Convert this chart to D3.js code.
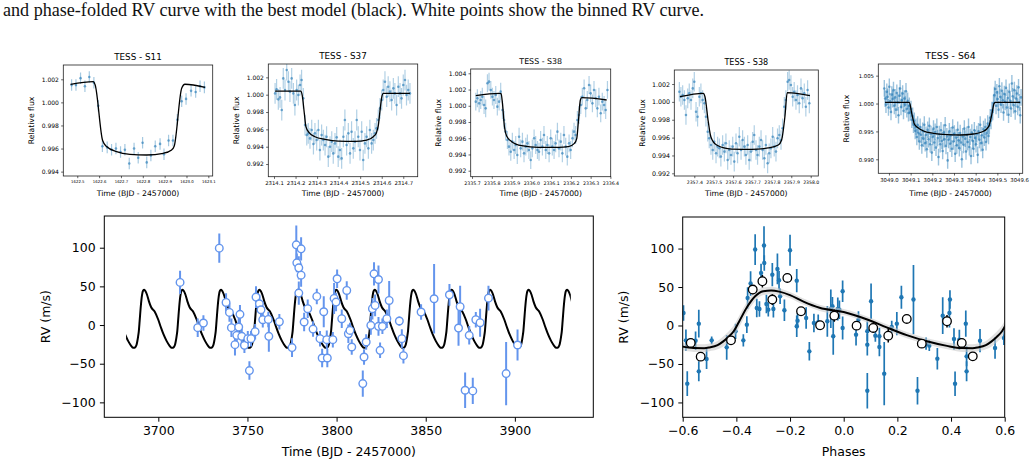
<!DOCTYPE html>
<html><head><meta charset="utf-8">
<script src="https://cdn.jsdelivr.net/npm/d3@7"></script>
<style>
body{margin:0;background:#fff;}
svg{display:block;}
</style></head><body>
<svg id="c" width="1034" height="465"></svg>
<script>
// ---------------- DATA ----------------
const captionText = "and phase-folded RV curve with the best model (black). White points show the binned RV curve.";

// TESS S11
const s11Time = [1622.474,1622.494,1622.515,1622.535,1622.555,1622.576,1622.596,1622.615,1622.637,1622.657,1622.677,1622.698,1622.718,1622.738,1622.760,1622.779,1622.799,1622.818,1622.837,1622.857,1622.879,1622.897,1622.918,1622.938,1622.958,1622.978,1622.998,1623.021,1623.042,1623.062,1623.082];
const s11Flux = [1.0015,1.0015,1.0021,1.0014,1.0022,1.0017,0.9997,0.9962,0.9961,0.9959,0.9960,0.9957,0.9959,0.9947,0.9960,0.9952,0.9965,0.9948,0.9954,0.9962,0.9964,0.9955,0.9967,0.9967,0.9985,1.0001,1.0003,1.0010,1.0009,1.0014,1.0013];
const s11Err = 0.0005;
const s11ModelTime = [1622.469,1622.573,1622.582,1622.616,1622.634,1622.680,1622.741,1622.818,1622.894,1622.932,1622.944,1622.978,1622.993,1623.085];
const s11ModelFlux = [1.00157,1.0018,1.00151,0.99669,0.99617,0.99573,0.9955,0.99544,0.99559,0.99588,0.99622,1.00122,1.00157,1.00131];
const s11XTicks = [1622.5,1622.6,1622.7,1622.8,1622.9,1623.0,1623.1];
const s11YTicks = [0.994,0.996,0.998,1.000,1.002];

// TESS S37
const s37Time = [2314.105,2314.112,2314.120,2314.128,2314.136,2314.143,2314.151,2314.159,2314.167,2314.174,2314.182,2314.190,2314.197,2314.205,2314.213,2314.221,2314.228,2314.236,2314.244,2314.252,2314.259,2314.267,2314.275,2314.283,2314.290,2314.298,2314.306,2314.313,2314.321,2314.329,2314.337,2314.344,2314.352,2314.360,2314.368,2314.375,2314.383,2314.391,2314.398,2314.406,2314.414,2314.422,2314.429,2314.437,2314.445,2314.453,2314.460,2314.468,2314.476,2314.484,2314.491,2314.499,2314.507,2314.514,2314.522,2314.530,2314.538,2314.545,2314.553,2314.561,2314.569,2314.576,2314.584,2314.592,2314.600,2314.607,2314.615,2314.623,2314.630,2314.638,2314.646,2314.654,2314.661,2314.669,2314.677,2314.685,2314.692,2314.700,2314.708,2314.715,2314.723,2314.731];
const s37Flux = [1.00015,1.00062,0.99946,0.99969,0.99823,1.00188,1.00054,1.00285,1.0015,1.00035,
1.00188,1.00015,0.99881,1.00054,0.99996,1.00112,1.00169,0.99958,0.9965,0.99535,
0.99554,0.99496,0.99592,0.99431,0.99554,0.99477,0.99592,0.99362,0.99535,0.99477,
0.99419,0.99515,0.99285,0.994,0.99458,0.99323,0.99438,0.99508,0.99285,0.99362,
0.99265,0.99515,0.99708,0.99419,0.99554,0.99323,0.99573,0.99381,0.99458,0.99708,
0.99515,0.99362,0.99573,0.99246,0.99438,0.99515,0.99381,0.99592,0.99438,0.99477,
0.99554,0.99612,0.99708,0.99842,0.99938,1.00054,1.0015,0.99977,1.00092,1.00035,
0.99938,1.00073,1.00015,0.99881,1.00092,1.00015,0.99958,1.00112,1.00169,0.99996,
1.00054,1.00015];
const s37Err = 0.0012;
const s37ModelTime = [2314.105,2314.225,2314.231,2314.241,2314.248,2314.262,2314.290,2314.337,2314.398,2314.476,2314.530,2314.561,2314.576,2314.584,2314.592,2314.600,2314.607,2314.731];
const s37ModelFlux = [1.00042,1.00042,0.99992,0.99777,0.99631,0.99565,0.99515,0.99485,0.99465,0.99462,0.99477,0.99515,0.99565,0.99642,0.99815,0.99969,1.00015,1.00015];
const s37XTicks = [2314.1,2314.2,2314.3,2314.4,2314.5,2314.6,2314.7];
const s37YTicks = [0.992,0.994,0.996,0.998,1.000,1.002];

// TESS S38 (first transit)
const s38aTime = [2335.719,2335.727,2335.736,2335.744,2335.752,2335.761,2335.769,2335.778,2335.786,2335.795,
2335.803,2335.811,2335.820,2335.828,2335.837,2335.845,2335.854,2335.862,2335.870,2335.879,
2335.887,2335.896,2335.904,2335.913,2335.921,2335.929,2335.938,2335.946,2335.955,2335.963,
2335.972,2335.980,2335.988,2335.997,2336.005,2336.014,2336.022,2336.031,2336.039,2336.047,
2336.056,2336.064,2336.073,2336.081,2336.090,2336.098,2336.106,2336.115,2336.123,2336.132,
2336.140,2336.149,2336.157,2336.165,2336.174,2336.182,2336.191,2336.199,2336.208,2336.216,
2336.224,2336.233,2336.241,2336.250,2336.258,2336.267,2336.275,2336.283,2336.292,2336.300,
2336.309,2336.317,2336.326,2336.334,2336.342,2336.351,2336.359,2336.368,2336.376,2336.385];
const s38aFlux = [1.00051,1.00092,1.0003,1.00071,1.00112,1.0001,0.99968,1.00277,1.00297,1.00195,
1.00112,1.00071,1.00133,0.99989,1.00051,1.00174,0.99948,0.99825,0.99681,0.99578,
0.99496,0.99434,0.99558,0.99455,0.99516,0.99393,0.99619,0.99475,0.99558,0.99414,
0.99496,0.99537,0.99455,0.99331,0.99475,0.99599,0.99516,0.99455,0.99434,0.99578,
0.99496,0.9964,0.99455,0.99516,0.99414,0.99599,0.99496,0.99455,0.99537,0.99681,
0.99475,0.99558,0.99414,0.9964,0.99496,0.99373,0.99537,0.99455,0.99599,0.99681,
0.9964,0.99825,0.99886,1.0001,1.00112,1.00215,0.99968,1.00071,1.00256,1.00153,
1.0003,1.00195,1.00092,0.99968,1.00112,0.99907,1.00051,1.0001,0.99948,1.00195];
const s38aErr = 0.0011;
const s38aModelTime = [2335.719,2335.837,2335.847,2335.854,2335.864,2335.875,2335.901,2335.951,2336.036,2336.137,2336.187,2336.218,2336.230,2336.238,2336.248,2336.255,2336.381];
const s38aModelFlux = [1.00125,1.00153,1.00149,1.0003,0.99742,0.99627,0.99558,0.99508,0.99488,0.99488,0.99496,0.99537,0.99599,0.99804,1.00071,1.001,1.00071];
const s38aXTicks = [2335.7,2335.8,2335.9,2336.0,2336.1,2336.2,2336.3,2336.4];
const s38aYTicks = [0.992,0.994,0.996,0.998,1.000,1.002,1.004];

// TESS S38 (second transit)
const s38bTime = [2357.323,2357.331,2357.340,2357.349,2357.357,2357.366,2357.374,2357.383,2357.392,2357.400,
2357.409,2357.417,2357.426,2357.434,2357.443,2357.452,2357.460,2357.469,2357.477,2357.486,
2357.495,2357.503,2357.512,2357.520,2357.529,2357.537,2357.546,2357.555,2357.563,2357.572,
2357.580,2357.589,2357.598,2357.606,2357.615,2357.623,2357.632,2357.641,2357.649,2357.658,
2357.666,2357.675,2357.683,2357.692,2357.701,2357.709,2357.718,2357.726,2357.735,2357.744,
2357.752,2357.761,2357.769,2357.778,2357.786,2357.795,2357.804,2357.812,2357.821,2357.829,
2357.838,2357.847,2357.855,2357.864,2357.872,2357.881,2357.889,2357.898,2357.907,2357.915,
2357.924,2357.932,2357.941,2357.950,2357.958,2357.967,2357.975,2357.984,2357.993];
const s38bFlux = [1.00114,1.00058,1.00077,1.00021,0.99853,1.0004,1.00096,1.00021,1.00151,1.00226,
0.9989,0.99834,1.00058,1.00096,1.00021,0.99984,0.99834,0.99666,0.99592,0.99517,
0.99461,0.99554,0.99424,0.99499,0.9948,0.99387,0.99517,0.99443,0.99536,0.99349,
0.99461,0.99405,0.99499,0.99331,0.99536,0.99424,0.9961,0.99461,0.99573,0.99499,
0.99405,0.99517,0.99349,0.99443,0.99554,0.99629,0.99461,0.99405,0.99499,0.99573,
0.99461,0.99368,0.99517,0.99312,0.99424,0.9948,0.9961,0.99499,0.99443,0.99592,
0.99629,0.99573,0.99704,0.99946,1.00021,1.00226,1.00245,1.00189,1.00058,1.00114,
1.00021,1.00077,0.99984,1.00151,1.0004,1.00096,0.99946,1.00133,0.99984];
const s38bErr = 0.0011;
const s38bModelTime = [2357.326,2357.446,2357.455,2357.472,2357.486,2357.515,2357.592,2357.696,2357.781,2357.833,2357.850,2357.867,2357.879,2357.996];
const s38bModelFlux = [1.00058,1.00096,1.00058,0.99778,0.99603,0.99517,0.99472,0.99469,0.99484,0.99517,0.99573,0.99834,1.00103,1.00069];
const s38bXTicks = [2357.4,2357.5,2357.6,2357.7,2357.8,2357.9,2358.0];
const s38bYTicks = [0.992,0.994,0.996,0.998,1.000,1.002];

// TESS S64
const s64Time = [3048.9785,3048.9823,3048.9862,3048.9900,3048.9939,3048.9977,3049.0016,3049.0054,3049.0093,3049.0131,
3049.0170,3049.0208,3049.0247,3049.0285,3049.0323,3049.0362,3049.0400,3049.0439,3049.0477,3049.0516,
3049.0554,3049.0593,3049.0631,3049.0670,3049.0708,3049.0747,3049.0785,3049.0823,3049.0862,3049.0900,
3049.0939,3049.0977,3049.1016,3049.1054,3049.1093,3049.1131,3049.1170,3049.1208,3049.1247,3049.1285,
3049.1323,3049.1362,3049.1400,3049.1439,3049.1477,3049.1516,3049.1554,3049.1593,3049.1631,3049.1670,
3049.1708,3049.1747,3049.1785,3049.1823,3049.1862,3049.1900,3049.1939,3049.1977,3049.2016,3049.2054,
3049.2093,3049.2131,3049.2170,3049.2208,3049.2247,3049.2285,3049.2323,3049.2362,3049.2400,3049.2439,
3049.2477,3049.2516,3049.2554,3049.2593,3049.2631,3049.2670,3049.2708,3049.2747,3049.2785,3049.2823,
3049.2862,3049.2900,3049.2939,3049.2977,3049.3016,3049.3054,3049.3093,3049.3131,3049.3170,3049.3208,
3049.3247,3049.3285,3049.3323,3049.3362,3049.3400,3049.3439,3049.3477,3049.3516,3049.3554,3049.3593,
3049.3631,3049.3670,3049.3708,3049.3747,3049.3785,3049.3823,3049.3862,3049.3900,3049.3939,3049.3977,
3049.4016,3049.4054,3049.4093,3049.4131,3049.4170,3049.4208,3049.4247,3049.4285,3049.4323,3049.4362,
3049.4400,3049.4439,3049.4477,3049.4516,3049.4554,3049.4593,3049.4631,3049.4670,3049.4708,3049.4747,
3049.4785,3049.4823,3049.4862,3049.4900,3049.4939,3049.4977,3049.5016,3049.5054,3049.5093,3049.5131,
3049.5170,3049.5208,3049.5247,3049.5285,3049.5323,3049.5362,3049.5400,3049.5439,3049.5477,3049.5516,
3049.5554,3049.5593,3049.5631,3049.5670,3049.5708,3049.5747,3049.5785,3049.5823,3049.5862,3049.5900,
3049.5939,3049.5977,3049.6016,3049.6054,3049.6093];
const s64Flux = [1.0027,1.0009,0.9998,1.0021,1.0012,0.9993,1.0030,1.0004,0.9985,1.0016,
1.0008,1.0024,0.9996,1.0011,0.9989,1.0019,1.0002,0.9979,1.0014,1.0027,
0.9994,1.0006,1.0018,0.9987,1.0009,0.9998,1.0022,0.9990,1.0005,0.9983,
0.9996,0.9984,0.9990,0.9971,0.9978,0.9962,0.9969,0.9951,0.9958,0.9940,
0.9962,0.9947,0.9932,0.9958,0.9944,0.9925,0.9951,0.9937,0.9962,0.9929,
0.9944,0.9918,0.9953,0.9936,0.9960,0.9927,0.9945,0.9912,0.9940,0.9955,
0.9930,0.9949,0.9921,0.9958,0.9938,0.9904,0.9945,0.9927,0.9952,0.9933,
0.9915,0.9948,0.9936,0.9961,0.9924,0.9941,0.9898,0.9935,0.9950,0.9928,
0.9943,0.9919,0.9957,0.9932,0.9946,0.9910,0.9939,0.9925,0.9953,0.9934,
0.9920,0.9947,0.9930,0.9900,0.9941,0.9926,0.9955,0.9937,0.9914,0.9944,
0.9931,0.9958,0.9922,0.9940,0.9906,0.9948,0.9933,0.9919,0.9952,0.9938,
0.9927,0.9945,0.9908,0.9950,0.9935,0.9962,0.9929,0.9943,0.9917,0.9954,
0.9939,0.9958,0.9931,0.9947,0.9964,0.9942,0.9960,0.9975,0.9969,0.9988,
0.9985,1.0001,1.0015,1.0026,0.9996,1.0020,1.0008,0.9989,1.0031,1.0012,
0.9998,1.0023,1.0006,0.9984,1.0017,1.0003,1.0028,0.9993,1.0010,0.9980,
1.0021,1.0005,0.9991,1.0036,1.0013,0.9997,1.0024,0.9986,1.0009,1.0018,
0.9994,1.0029,1.0002,0.9979,1.0011];
const s64Err = 0.0015;
const s64ModelTime = [3048.982,3049.094,3049.105,3049.117,3049.131,3049.159,3049.205,3049.266,3049.328,3049.389,3049.428,3049.451,3049.463,3049.474,3049.485,3049.491,3049.605];
const s64ModelFlux = [1.00022,1.00022,0.99825,0.99633,0.99574,0.99508,0.99466,0.99442,0.99436,0.99454,0.9949,0.99544,0.99616,0.99795,1.00004,1.00022,1.00022];
const s64XTicks = [3049.0,3049.1,3049.2,3049.3,3049.4,3049.5,3049.6];
const s64YTicks = [0.990,0.995,1.000,1.005];

// RV time series
const rvTime = [3712.2,3722.1,3725.3,3734.2,3738.0,3739.9,3741.0,3743.0,3744.0,3745.1,
3745.8,3746.8,3748.3,3750.2,3751.1,3752.0,3754.3,3754.8,3756.7,3757.6,
3758.6,3761.7,3762.0,3767.9,3775.0,3777.4,3777.7,3778.8,3778.8,3780.1,
3780.1,3781.8,3783.8,3786.8,3788.9,3790.7,3791.9,3792.8,3794.5,3794.8,
3797.9,3798.6,3799.7,3800.3,3802.9,3805.7,3806.6,3807.5,3808.5,3814.7,
3815.4,3816.6,3819.2,3820.1,3821.0,3821.6,3823.5,3823.5,3824.4,3825.7,
3828.2,3829.5,3835.2,3836.6,3837.5,3847.4,3854.7,3863.3,3868.4,3869.3,
3872.1,3874.4,3876.4,3878.1,3880.5,3885.2,3895.1,3901.5];
const rvValue = [55.1,-3.4,2.6,99.4,29.2,16.3,-3.4,-25.4,-13.3,-2.6,
13.8,-14.6,-26.2,-17.6,-58.9,-17.6,-8.6,36.1,27.5,19.8,
6.9,7.3,-14.6,4.3,-29.2,103.7,80.4,74.0,41.3,98.5,
64.5,3.9,21.1,-5.2,37.0,-17.6,-42.6,17.2,-18.9,-42.6,
-18.9,34.4,29.7,59.8,8.2,44.7,-11.2,-6.9,-28.4,-75.7,
-41.3,-21.9,-0.4,21.1,66.2,25.4,58.9,-1.7,-32.7,-1.7,
8.2,31.8,5.2,-17.6,-39.6,16.8,34.0,39.1,-3.9,23.7,
-84.3,-13.3,-85.2,6.9,3.0,34.8,-62.8,-25.8];
const rvError = [15,12,10,19,12,12,12,14,10,12,
12,10,10,10,12,10,10,14,12,12,
10,10,20,10,12,25,12,15,15,15,
15,12,12,10,10,10,12,20,12,12,
10,20,12,12,12,12,12,10,10,17,
10,10,12,14,15,14,18,12,10,10,
12,25,6,12,10,10,45,14,23,27,
23,12,17,10,18,16,41,20];
const rvTimeTicks = [3700,3750,3800,3850,3900];
const rvTicks = [-100,-50,0,50,100];

// Keplerian model (one orbit in phase) and ephemeris
const rvPeriod = 21.57;
const rvEpoch = 3697.93;
const modelPhase = [-0.50,-0.47,-0.45,-0.43,-0.41,-0.39,-0.36,-0.33,-0.30,-0.27,-0.24,-0.20,-0.15,-0.09,0.00,0.09,0.16,0.235,0.31,0.385,0.44,0.48];
const modelRV = [-28.5,-25.5,-21,-15,-7.5,5,24,38,44.5,45.5,44,39.5,31,23,17.5,7.5,-2.5,-12.5,-20.5,-26.5,-29.3,-29.5];
const modelBand = [5,5.5,6.5,7,7.5,7.5,7,6,5,5,4.5,4,4,4,4,4,4,4,4,4.5,5,5];

// Phase-folded RV
const phaseValue = [-0.597,-0.588,-0.583,-0.552,-0.540,-0.540,-0.511,-0.492,-0.436,-0.403,
-0.374,-0.361,-0.358,-0.347,-0.330,-0.324,-0.314,-0.308,-0.297,-0.296,
-0.288,-0.281,-0.266,-0.262,-0.247,-0.241,-0.237,-0.221,-0.200,-0.175,
-0.175,-0.172,-0.140,-0.128,-0.111,-0.095,-0.061,-0.048,-0.042,-0.039,
-0.022,-0.016,-0.004,-0.004,0.046,0.055,0.088,0.088,0.088,0.102,
0.118,0.133,0.133,0.151,0.179,0.198,0.215,0.260,0.275,0.307,
0.319,0.349,0.369,0.394,0.396,0.411,0.415,0.431,0.455,0.458,
0.458,0.508,0.564,0.597];
const phaseRV = [16.3,-19.3,-75.6,-19.7,2.4,-59.6,-43.5,-19.3,-28.4,-7.6,
-19.3,1.1,35.8,54.5,98.7,22.8,21.5,68.3,103.9,81.3,
28.0,20.6,66.1,21.5,73.5,58.8,38.0,19.8,97.8,58.3,
-1.0,6.3,9.8,-33.6,3.3,4.2,5.5,21.9,25.0,-14.0,
21.5,20.6,44.5,-3.2,-11.9,7.6,-7.5,-24.9,-84.8,31.5,
-13.2,-14.0,-27.9,-62.6,-1.9,2.4,36.7,33.7,-84.8,-23.6,
-26.2,-43.1,12.8,16.3,33.7,-17.6,-75.7,-18.4,2.4,-40.1,
-59.6,-19.7,-29.2,-16.2];
const phaseErr = [10,14,16,12,18,13,13,5,16,10,
8,11,14,16,20,12,10,12,25,10,
12,9,15,11,20,12,10,14,20,15,
14,10,14,12,12,10,20,25,12,24,
15,12,14,15,14,11,13,14,23,23,
8,11,12,41,8,15,15,45,18,8,
7,14,24,19,12,14,16,13,17,13,
13,15,14,9];
const binPhase = [-0.570,-0.533,-0.420,-0.339,-0.303,-0.266,-0.210,-0.159,-0.088,-0.035,0.048,0.110,0.166,0.235,0.291,0.385,0.440,0.481];
const binRV = [-22.7,-40.5,-19.3,46.7,57.5,33.7,61.8,18.5,0.3,12.8,-0.2,-3.2,-13.2,8.5,-23.6,5.5,-22.7,-40.1];
const binErr = [5,5,4,6,8,7,6,5,5,8,5,6,9,5,5,8,5,5];
const phaseTicks = [-0.6,-0.4,-0.2,0.0,0.2,0.4,0.6];

// ---------------- DRAWING ----------------
const svg = d3.select("#c");
const FONT = "'DejaVu Sans', sans-serif";

svg.append("text").attr("x",3).attr("y",16)
  .attr("font-family","'Liberation Serif','Times New Roman',serif")
  .attr("font-size",18.1).attr("fill","#111").text(captionText);

let clipN = 0;
function addClip(x0,x1,y0,y1){
  const id = "clip"+(clipN++);
  svg.append("clipPath").attr("id",id).append("rect")
    .attr("x",x0).attr("y",y0).attr("width",x1-x0).attr("height",y1-y0);
  return `url(#${id})`;
}
function styleAxis(sel, fs, tickW){
  sel.select(".domain").remove();
  sel.attr("font-family",FONT).attr("font-size",fs);
  sel.selectAll(".tick line").attr("stroke","#000").attr("stroke-width",tickW);
  sel.selectAll(".tick text").attr("fill","#000");
}

function lightCurve(p){
  const [x0,x1,y0,y1] = p.box;
  const x = d3.scaleLinear().domain(p.xDom).range([x0,x1]);
  const y = d3.scaleLinear().domain(p.yDom).range([y1,y0]);
  const g = svg.append("g");
  const inner = g.append("g").attr("clip-path", addClip(x0,x1,y0,y1));
  const pts = p.time.map((t,i)=>({t, f:p.flux[i]}));
  inner.append("g").selectAll("line").data(pts).join("line")
    .attr("x1",d=>x(d.t)).attr("x2",d=>x(d.t))
    .attr("y1",d=>y(d.f-p.err)).attr("y2",d=>y(d.f+p.err))
    .attr("stroke","#1f77b4").attr("stroke-opacity",p.eo).attr("stroke-width",p.ew);
  inner.append("g").selectAll("circle").data(pts).join("circle")
    .attr("cx",d=>x(d.t)).attr("cy",d=>y(d.f)).attr("r",1.3)
    .attr("fill","#1f77b4").attr("fill-opacity",0.6);
  const line = d3.line().x(d=>x(d[0])).y(d=>y(d[1])).curve(d3.curveMonotoneX);
  inner.append("path").datum(p.mT.map((t,i)=>[t,p.mF[i]])).attr("d",line)
    .attr("fill","none").attr("stroke","#000").attr("stroke-width",1.3);
  g.append("rect").attr("x",x0).attr("y",y0).attr("width",x1-x0).attr("height",y1-y0)
    .attr("fill","none").attr("stroke","#222").attr("stroke-width",0.8);
  g.append("g").attr("transform",`translate(0,${y1})`)
    .call(d3.axisBottom(x).tickValues(p.xTicks).tickFormat(d3.format(".1f")).tickSize(2.2).tickPadding(2.4))
    .call(s=>styleAxis(s,p.xfs,0.6));
  g.append("g").attr("transform",`translate(${x0},0)`)
    .call(d3.axisLeft(y).tickValues(p.yTicks).tickFormat(d3.format(".3f")).tickSize(2.2).tickPadding(2.2))
    .call(s=>styleAxis(s,p.yfs,0.6));
  g.append("text").attr("x",(x0+x1)/2).attr("y",y0-5.5).attr("text-anchor","middle")
    .attr("font-family",FONT).attr("font-size",p.tfs).text(p.title);
  g.append("text").attr("x",(x0+x1)/2).attr("y",195.8).attr("text-anchor","middle")
    .attr("font-family",FONT).attr("font-size",7.7).text("Time (BJD - 2457000)");
  g.append("text").attr("transform",`translate(${x0-32},${(y0+y1)/2}) rotate(-90)`)
    .attr("text-anchor","middle").attr("dy","0.35em")
    .attr("font-family",FONT).attr("font-size",7.7).text("Relative flux");
}

const lcPanels = [
  {title:"TESS - S11", time:s11Time, flux:s11Flux, err:s11Err, mT:s11ModelTime, mF:s11ModelFlux,
   xTicks:s11XTicks, yTicks:s11YTicks, box:[63.3,212.7,65,176], xDom:[1622.436,1623.120], yDom:[0.99362,1.00324], xfs:3.9, yfs:6, tfs:8.8, eo:0.4, ew:1.2},
  {title:"TESS - S37", time:s37Time, flux:s37Flux, err:s37Err, mT:s37ModelTime, mF:s37ModelFlux,
   xTicks:s37XTicks, yTicks:s37YTicks, box:[268.3,417.7,64,176.7], xDom:[2314.0735,2314.767], yDom:[0.99054,1.00354], xfs:5.3, yfs:6, tfs:8.8, eo:0.35, ew:1.2},
  {title:"TESS - S38", time:s38aTime, flux:s38aFlux, err:s38aErr, mT:s38aModelTime, mF:s38aModelFlux,
   xTicks:s38aXTicks, yTicks:s38aYTicks, box:[470.7,610.7,69,176.7], xDom:[2335.6933,2336.4015], yDom:[0.99126,1.00453], xfs:4.7, yfs:6.1, tfs:7.9, eo:0.35, ew:1.2},
  {title:"TESS - S38", time:s38bTime, flux:s38bFlux, err:s38bErr, mT:s38bModelTime, mF:s38bModelFlux,
   xTicks:s38bXTicks, yTicks:s38bYTicks, box:[674.3,818.3,70,176], xDom:[2357.2969,2358.0392], yDom:[0.99170,1.00357], xfs:4.6, yfs:6.3, tfs:8.1, eo:0.35, ew:1.2},
  {title:"TESS - S64", time:s64Time, flux:s64Flux, err:s64Err, mT:s64ModelTime, mF:s64ModelFlux,
   xTicks:s64XTicks, yTicks:s64YTicks, box:[878.3,1022.7,64,173.3], xDom:[3048.9508,3049.6169], yDom:[0.98749,1.00709], xfs:5.3, yfs:5.3, tfs:9.3, eo:0.45, ew:1.4}
];
lcPanels.forEach(lightCurve);

// tile the one-orbit model over a number of cycles
function tiledModel(k0,k1){
  const out = [];
  for(let k=k0;k<=k1;k++){
    modelPhase.forEach((ph,i)=>out.push({ph:ph+k, t:rvEpoch+(ph+k)*rvPeriod, rv:modelRV[i], band:modelBand[i]}));
  }
  return out;
}

function bottomAxes(g,x,y,box,xTicks,xFmt){
  const [x0,x1,y0,y1] = box;
  g.append("rect").attr("x",x0).attr("y",y0).attr("width",x1-x0).attr("height",y1-y0)
    .attr("fill","none").attr("stroke","#000").attr("stroke-width",1);
  g.append("g").attr("transform",`translate(0,${y1})`)
    .call(d3.axisBottom(x).tickValues(xTicks).tickFormat(xFmt).tickSize(4.4).tickPadding(4.2))
    .call(s=>styleAxis(s,12.5,1));
  g.append("g").attr("transform",`translate(${x0},0)`)
    .call(d3.axisLeft(y).tickValues(rvTicks).tickFormat(d3.format("d")).tickSize(4.4).tickPadding(4.2))
    .call(s=>styleAxis(s,12.5,1));
  g.append("text").attr("transform",`translate(${x0-59},${(y0+y1)/2}) rotate(-90)`)
    .attr("text-anchor","middle").attr("dy","0.35em")
    .attr("font-family",FONT).attr("font-size",12.5).text("RV (m/s)");
}

// ---- RV vs time ----
(function(){
  const box = [104.3,593.3,216,417.3];
  const [x0,x1,y0,y1] = box;
  const x = d3.scaleLinear().domain([3669.7,3944]).range([x0,x1]);
  const y = d3.scaleLinear().domain([-119.3,141]).range([y1,y0]);
  const g = svg.append("g");
  const mclip = addClip(x(3681.9), x(3931.4), y0, y1);
  const model = tiledModel(-2, 12);
  g.append("path").attr("clip-path", mclip).datum(model)
    .attr("d", d3.line().x(d=>x(d.t)).y(d=>y(d.rv)).curve(d3.curveMonotoneX))
    .attr("fill","none").attr("stroke","#000").attr("stroke-width",2);
  const pts = rvTime.map((t,i)=>({t, v:rvValue[i], e:rvError[i]}));
  const inner = g.append("g").attr("clip-path", addClip(x0,x1,y0,y1));
  inner.append("g").selectAll("line").data(pts).join("line")
    .attr("x1",d=>x(d.t)).attr("x2",d=>x(d.t))
    .attr("y1",d=>y(d.v-d.e)).attr("y2",d=>y(d.v+d.e))
    .attr("stroke","#6495ED").attr("stroke-width",2);
  inner.append("g").selectAll("circle").data(pts).join("circle")
    .attr("cx",d=>x(d.t)).attr("cy",d=>y(d.v)).attr("r",3.8)
    .attr("fill","#fff").attr("stroke","#6495ED").attr("stroke-width",1.4);
  bottomAxes(g,x,y,box,rvTimeTicks,d3.format("d"));
  g.append("text").attr("x",(x0+x1)/2).attr("y",455.5).attr("text-anchor","middle")
    .attr("font-family",FONT).attr("font-size",12.5).text("Time (BJD - 2457000)");
})();

// ---- Phase-folded RV ----
(function(){
  const box = [682.7,1004.7,217,417.3];
  const [x0,x1,y0,y1] = box;
  const x = d3.scaleLinear().domain([-0.6,0.6]).range([x0,x1]);
  const y = d3.scaleLinear().domain([-119.3,141]).range([y1,y0]);
  const g = svg.append("g");
  const inner = g.append("g").attr("clip-path", addClip(x0,x1,y0,y1));
  const pts = phaseValue.map((p,i)=>({p, v:phaseRV[i], e:phaseErr[i]}));
  inner.append("g").selectAll("line").data(pts).join("line")
    .attr("x1",d=>x(d.p)).attr("x2",d=>x(d.p))
    .attr("y1",d=>y(d.v-d.e)).attr("y2",d=>y(d.v+d.e))
    .attr("stroke","#1f77b4").attr("stroke-width",1.7);
  inner.append("g").selectAll("circle").data(pts).join("circle")
    .attr("cx",d=>x(d.p)).attr("cy",d=>y(d.v)).attr("r",2.2)
    .attr("fill","#1f77b4");
  const model = tiledModel(-1, 1);
  inner.append("path").datum(model)
    .attr("d", d3.area().x(d=>x(d.ph)).y0(d=>y(d.rv-d.band)).y1(d=>y(d.rv+d.band)).curve(d3.curveMonotoneX))
    .attr("fill","#c8c8c8").attr("fill-opacity",0.55);
  inner.append("path").datum(model)
    .attr("d", d3.line().x(d=>x(d.ph)).y(d=>y(d.rv)).curve(d3.curveMonotoneX))
    .attr("fill","none").attr("stroke","#000").attr("stroke-width",2);
  const bins = binPhase.map((p,i)=>({p, v:binRV[i], e:binErr[i]}));
  inner.append("g").selectAll("line").data(bins).join("line")
    .attr("x1",d=>x(d.p)).attr("x2",d=>x(d.p))
    .attr("y1",d=>y(d.v-d.e)).attr("y2",d=>y(d.v+d.e))
    .attr("stroke","#000").attr("stroke-width",1.5);
  inner.append("g").selectAll("circle").data(bins).join("circle")
    .attr("cx",d=>x(d.p)).attr("cy",d=>y(d.v)).attr("r",4.3)
    .attr("fill","#fff").attr("stroke","#000").attr("stroke-width",1.3);
  bottomAxes(g,x,y,box,phaseTicks,d3.format(".1f"));
  g.append("text").attr("x",(x0+x1)/2).attr("y",456).attr("text-anchor","middle")
    .attr("font-family",FONT).attr("font-size",12.5).text("Phases");
})();
</script>
</body></html>
